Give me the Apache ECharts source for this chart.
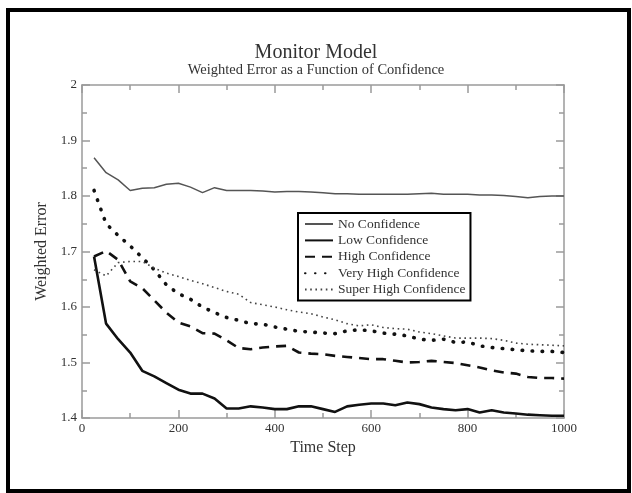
<!DOCTYPE html>
<html>
<head>
<meta charset="utf-8">
<script src="https://cdn.jsdelivr.net/npm/echarts@6/dist/echarts.min.js"></script>
<style>
  html, body { margin: 0; padding: 0; background: #fff; }
  #chart { width: 632px; height: 493px; }
</style>
</head>
<body>
<div id="chart"></div>
<script>
// time steps 25..1000
const timeSteps = [25, 50, 75, 100, 125, 150, 175, 200, 225, 250, 275, 300, 325, 350, 375, 400, 425, 450, 475, 500,
  525, 550, 575, 600, 625, 650, 675, 700, 725, 750, 775, 800, 825, 850, 875, 900, 925, 950, 975, 1000]

const noConfidence = [1.869, 1.842, 1.829, 1.810, 1.814, 1.815, 1.821, 1.823, 1.816, 1.806, 1.815, 1.810, 1.810, 1.810, 1.809, 1.807, 1.808, 1.808, 1.807, 1.806,
  1.804, 1.804, 1.803, 1.803, 1.803, 1.803, 1.803, 1.804, 1.805, 1.803, 1.803, 1.803, 1.802, 1.802, 1.801, 1.799, 1.797, 1.799, 1.800, 1.800]

const lowConfidence = [1.691, 1.570, 1.542, 1.518, 1.485, 1.475, 1.463, 1.451, 1.444, 1.444, 1.435, 1.417, 1.417, 1.421, 1.419, 1.416, 1.416, 1.421, 1.421, 1.416,
  1.411, 1.421, 1.424, 1.426, 1.426, 1.423, 1.428, 1.425, 1.419, 1.416, 1.414, 1.416, 1.410, 1.414, 1.410, 1.408, 1.406, 1.405, 1.404, 1.404]

const highConfidence = [1.691, 1.701, 1.685, 1.646, 1.634, 1.612, 1.590, 1.572, 1.565, 1.553, 1.552, 1.540, 1.526, 1.524, 1.527, 1.529, 1.530, 1.518, 1.516, 1.515,
  1.512, 1.510, 1.508, 1.506, 1.506, 1.503, 1.500, 1.501, 1.503, 1.501, 1.499, 1.495, 1.491, 1.486, 1.482, 1.480, 1.474, 1.472, 1.472, 1.471]

const veryHighConfidence = [1.810, 1.750, 1.729, 1.710, 1.689, 1.667, 1.640, 1.624, 1.614, 1.600, 1.590, 1.581, 1.576, 1.570, 1.569, 1.564, 1.560, 1.556, 1.555, 1.553,
  1.552, 1.557, 1.559, 1.557, 1.553, 1.551, 1.548, 1.542, 1.540, 1.542, 1.536, 1.537, 1.530, 1.527, 1.525, 1.523, 1.521, 1.520, 1.520, 1.518]

const superHighConfidence = [1.667, 1.656, 1.680, 1.682, 1.682, 1.670, 1.661, 1.655, 1.648, 1.642, 1.635, 1.628, 1.623, 1.608, 1.604, 1.600, 1.595, 1.591, 1.588, 1.582,
  1.577, 1.570, 1.566, 1.568, 1.563, 1.561, 1.560, 1.555, 1.552, 1.548, 1.544, 1.544, 1.544, 1.543, 1.540, 1.535, 1.533, 1.532, 1.531, 1.530]

const seriesNames = ['No Confidence', 'Low Confidence', 'High Confidence', 'Very High Confidence', 'Super High Confidence']

const serif = '"Liberation Serif", "DejaVu Serif", serif'
const axisGrey = '#9a9a9a'

const pairs = (ys) => timeSteps.map((t, i) => [t, ys[i]])

const chart = echarts.init(document.getElementById('chart'), null, { renderer: 'canvas' })

// 轴的公共设置
const xBase = {
  type: 'value', min: 0, max: 1000, interval: 200,
  axisLine: { show: true, onZero: false, lineStyle: { color: axisGrey, width: 1.5 } },
  axisTick: { show: true, inside: true, length: 8, lineStyle: { color: axisGrey, width: 1.5 } },
  minorTick: { show: true, splitNumber: 2, length: 5, lineStyle: { color: axisGrey, width: 1.5 } },
  splitLine: { show: false }
}
const yBase = {
  type: 'value', min: 1.4, max: 2, interval: 0.1,
  axisLine: { show: true, onZero: false, lineStyle: { color: axisGrey, width: 1.5 } },
  axisTick: { show: true, inside: true, length: 8, lineStyle: { color: axisGrey, width: 1.5 } },
  minorTick: { show: true, splitNumber: 2, length: 5, lineStyle: { color: axisGrey, width: 1.5 } },
  splitLine: { show: false }
}

const option = {
  backgroundColor: '#fff',
  animation: false,
  title: [
    { text: 'Monitor Model', left: 'center', top: 38,
      textStyle: { fontFamily: serif, fontSize: 20, fontWeight: 'normal', color: '#333' } },
    { text: 'Weighted Error as a Function of Confidence', left: 'center', top: 58,
      textStyle: { fontFamily: serif, fontSize: 14.5, fontWeight: 'normal', color: '#333' } }
  ],
  grid: { left: 82, right: 68, top: 85, bottom: 75 },
  legend: {
    orient: 'vertical', left: 298, top: 213,
    data: seriesNames,
    itemWidth: 28, itemHeight: 13, itemGap: 2.4,
    padding: [4, 5, 4, 6],
    borderColor: '#000', borderWidth: 2,
    backgroundColor: '#fff',
    itemStyle: { opacity: 0 },
    textStyle: { fontFamily: serif, fontSize: 13.5, color: '#333' }
  },
  xAxis: [
    Object.assign({}, xBase, {
      position: 'bottom',
      name: 'Time Step', nameLocation: 'middle', nameGap: 21,
      nameTextStyle: { fontFamily: serif, fontSize: 16, color: '#333' },
      axisLabel: { show: true, margin: 4, fontFamily: serif, fontSize: 13, color: '#333',
        formatter: (v) => String(v) }
    }),
    Object.assign({}, xBase, { position: 'top', axisLabel: { show: false } })
  ],
  yAxis: [
    Object.assign({}, yBase, {
      position: 'left',
      name: 'Weighted Error', nameLocation: 'middle', nameGap: 23,
      nameTextStyle: { fontFamily: serif, fontSize: 16, color: '#333' },
      axisLabel: { show: true, margin: 5, fontFamily: serif, fontSize: 13, color: '#333',
        formatter: (v) => String(+v.toFixed(1)) }
    }),
    Object.assign({}, yBase, { position: 'right', axisLabel: { show: false } })
  ],
  series: [
    { name: seriesNames[0], type: 'line', data: pairs(noConfidence), symbol: 'none',
      lineStyle: { color: '#555', width: 1.5 }, itemStyle: { color: '#555' } },
    { name: seriesNames[1], type: 'line', data: pairs(lowConfidence), symbol: 'none',
      lineStyle: { color: '#111', width: 2.6 }, itemStyle: { color: '#111' } },
    { name: seriesNames[2], type: 'line', data: pairs(highConfidence), symbol: 'none',
      lineStyle: { color: '#111', width: 2.6, type: [10, 7] }, itemStyle: { color: '#111' } },
    { name: seriesNames[3], type: 'line', data: pairs(veryHighConfidence), symbol: 'none',
      lineStyle: { color: '#111', width: 3.6, type: [0.5, 9.5], cap: 'round' }, itemStyle: { color: '#111' } },
    { name: seriesNames[4], type: 'line', data: pairs(superHighConfidence), symbol: 'none',
      lineStyle: { color: '#444', width: 1.6, type: [1.6, 3.6] }, itemStyle: { color: '#444' } }
  ],
  graphic: [
    { type: 'rect', silent: true, z: 100,
      shape: { x: 8, y: 10, width: 621, height: 481 },
      style: { fill: 'none', stroke: '#000', lineWidth: 4 } }
  ]
}

chart.setOption(option)
</script>
</body>
</html>
